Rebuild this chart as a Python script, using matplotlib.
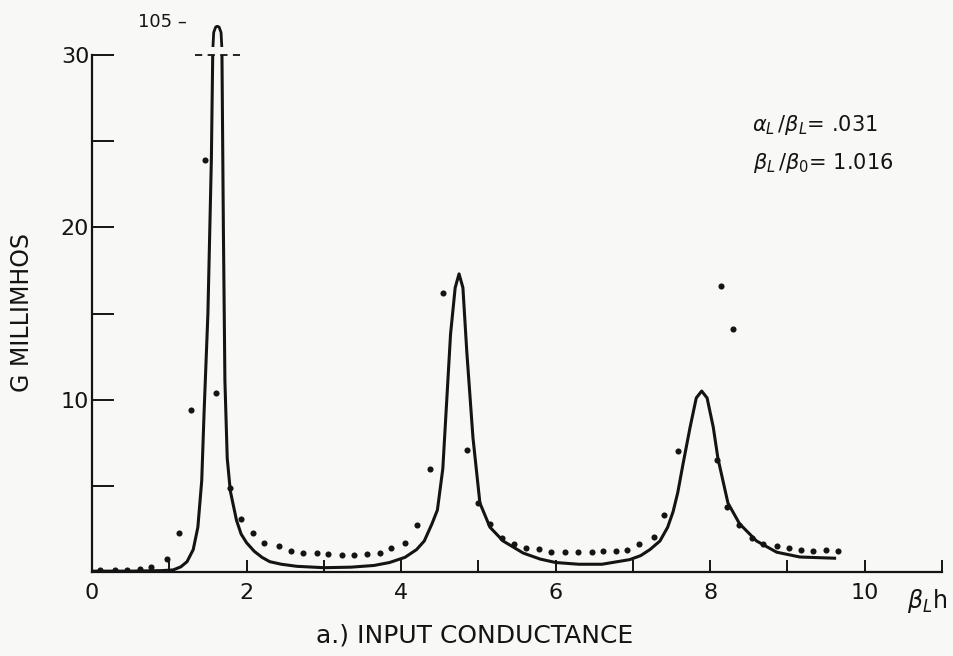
import matplotlib
matplotlib.use("Agg")
import matplotlib.pyplot as plt

plt.rcParams['font.family'] = ['DejaVu Sans']
plt.rcParams['mathtext.fontset'] = 'dejavusans'

# ---- data ----
curve_x = [0.0, 0.5, 0.9, 1.05, 1.15, 1.23, 1.31, 1.37, 1.42, 1.45, 1.50, 1.545, 1.565,
           1.565, 1.575, 1.60, 1.62, 1.645, 1.67, 1.68,
           1.68, 1.70, 1.72, 1.75, 1.79, 1.87, 1.93, 2.0, 2.1, 2.2, 2.3, 2.45, 2.65,
           3.0, 3.35, 3.65, 3.85, 4.05, 4.2, 4.3, 4.4, 4.47, 4.54, 4.59, 4.64, 4.70,
           4.75, 4.80, 4.85, 4.93, 5.02, 5.15, 5.32, 5.58, 5.8, 6.0, 6.3, 6.6, 6.96,
           7.1, 7.22, 7.35, 7.45, 7.52, 7.58, 7.65, 7.74, 7.82, 7.89, 7.96, 8.04, 8.10,
           8.23, 8.38, 8.6, 8.86, 9.16, 9.61]
curve_y = [0.05, 0.05, 0.08, 0.12, 0.3, 0.6, 1.3, 2.6, 5.3, 9.2, 15.0, 24.0, 31.0,
           100.0, 103.5, 104.8, 105.0, 104.8, 103.5, 100.0,
           31.0, 20.0, 11.1, 6.6, 4.7, 3.0, 2.2, 1.7, 1.2, 0.85, 0.6, 0.45, 0.33,
           0.25, 0.28, 0.38, 0.55, 0.85, 1.3, 1.8, 2.8, 3.6, 6.0, 9.9, 13.8, 16.5,
           17.3, 16.5, 12.8, 7.8, 4.0, 2.6, 1.8, 1.1, 0.75, 0.55, 0.45, 0.45, 0.72,
           0.95, 1.3, 1.8, 2.6, 3.5, 4.6, 6.3, 8.4, 10.1, 10.5, 10.1, 8.4, 6.6,
           4.0, 2.8, 1.8, 1.15, 0.87, 0.8]

dots_x = [0.1, 0.3, 0.45, 0.62, 0.77, 0.97, 1.13, 1.28, 1.46, 1.60, 1.79, 1.93, 2.08,
          2.23, 2.42, 2.57, 2.73, 2.91, 3.05, 3.24, 3.39, 3.56, 3.73, 3.87, 4.05, 4.2,
          4.38, 4.54, 4.85, 4.99, 5.15, 5.31, 5.46, 5.62, 5.79, 5.94, 6.12, 6.29, 6.47,
          6.61, 6.78, 6.92, 7.08, 7.27, 7.40, 7.59, 8.14, 8.29, 8.09, 8.22, 8.37, 8.54,
          8.69, 8.86, 9.02, 9.17, 9.33, 9.50, 9.66]
dots_y = [0.1, 0.1, 0.1, 0.2, 0.3, 0.75, 2.25, 9.4, 23.9, 10.4, 4.9, 3.1, 2.25,
          1.7, 1.5, 1.2, 1.1, 1.1, 1.05, 1.0, 1.0, 1.05, 1.1, 1.4, 1.7, 2.7,
          5.95, 16.2, 7.1, 4.0, 2.8, 2.0, 1.6, 1.4, 1.35, 1.15, 1.15, 1.15, 1.15,
          1.2, 1.2, 1.3, 1.6, 2.05, 3.3, 7.0, 16.6, 14.1, 6.5, 3.75, 2.7, 2.0,
          1.6, 1.5, 1.4, 1.25, 1.2, 1.25, 1.2]

x_ticks = [0, 1, 2, 3, 4, 5, 6, 7, 8, 9, 10, 11]
x_tick_labels = ['0', '', '2', '', '4', '', '6', '', '8', '', '10', '']
y_ticks = [5, 10, 15, 20, 25, 30]
y_tick_labels = ['', '10', '', '20', '', '30']
break_x = [1.33, 1.91]
break_y = [30, 30]

ink = '#141414'
paper = '#f8f8f6'

fig = plt.figure(figsize=(9.54, 6.56), dpi=100, facecolor=paper)
ax = fig.add_axes([92/954, 84/656, 850/954, 517/656])
ax.set_facecolor(paper)
ax.set_xlim(0, 11)
ax.set_ylim(0, 30)

ax.plot(curve_x, curve_y, color=ink, lw=2.2, solid_joinstyle='round')
ax.plot(dots_x, dots_y, 'o', color=ink, ms=4.4, mec='none')
ax.plot(break_x, break_y, color=ink, lw=1.3, ls=(0, (4, 3)), clip_on=False)

for s in ['top', 'right']:
    ax.spines[s].set_visible(False)
for s in ['left', 'bottom']:
    ax.spines[s].set_linewidth(1.6)
    ax.spines[s].set_color(ink)

ax.set_xticks(x_ticks)
ax.set_xticklabels(x_tick_labels)
ax.set_yticks(y_ticks)
ax.set_yticklabels(y_tick_labels)
ax.tick_params(axis='x', direction='in', length=9, width=1.4, pad=8,
               labelsize=16, colors=ink)
ax.tick_params(axis='y', direction='in', length=16, width=1.4, pad=2,
               labelsize=16, colors=ink)

# small panel above the axis break showing the top of the first peak
axt = fig.add_axes([92/954, (656-47)/656, 850/954, 22/656])
axt.set_xlim(0, 11)
axt.set_ylim(100, 105.3)
axt.plot(curve_x, curve_y, color=ink, lw=2.0)
axt.axis('off')

fig.text(138/954, (656-22)/656, '105 \u2013', fontsize=13, color=ink,
         ha='left', va='center')

fig.text(22/954, (656-313)/656, 'G MILLIMHOS', rotation=90, fontsize=17,
         color=ink, ha='center', va='center')
fig.text(907/954, (656-601)/656, r'$\beta_{L}$h', fontsize=17, color=ink,
         ha='left', va='center')
fig.text(475/954, (656-636)/656, 'a.) INPUT CONDUCTANCE', fontsize=18,
         color=ink, ha='center', va='center')

fig.text(752/954, (656-125)/656, r'$\alpha_{L}\,/\beta_{L}$= .031', fontsize=15,
         color=ink, ha='left', va='center')
fig.text(753/954, (656-163)/656, r'$\beta_{L}\,/\beta_{0}$= 1.016', fontsize=15,
         color=ink, ha='left', va='center')

fig.savefig('out.png', dpi=100, facecolor=paper)
